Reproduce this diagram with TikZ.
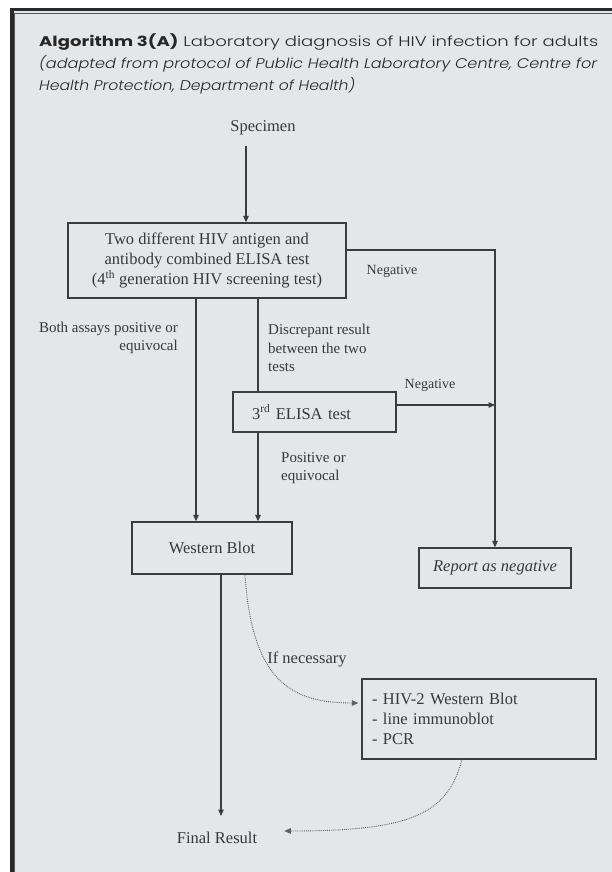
\documentclass[tikz,border=0pt]{standalone}
\usepackage{fontspec}
\setmainfont{Liberation Serif}
\newfontfamily\titlefont{Poppins Light}[BoldFont={Poppins Bold},ItalicFont={Poppins Light Italic}]
\usetikzlibrary{arrows.meta}
\definecolor{bgc}{HTML}{E5E6E8}
\definecolor{ln}{HTML}{3C3C3C}
\definecolor{tx}{HTML}{383838}
\definecolor{ttl}{HTML}{262626}
\definecolor{frm}{HTML}{2A2A2A}
\begin{document}
\begin{tikzpicture}[x=1pt,y=-1pt,
  box/.style={draw=ln, line width=1.3pt, rectangle, inner sep=0pt, font=\fontsize{16.5}{20}\selectfont, text=tx},
  txt/.style={font=\fontsize{16.5}{20}\selectfont, text=tx, inner sep=0pt},
  lbl/.style={font=\fontsize{15}{18.5}\selectfont, text=tx, inner sep=0pt},
  neg/.style={font=\fontsize{14}{16}\selectfont, text=tx, inner sep=0pt},
  ttlline/.style={anchor=base west, inner sep=0pt, text=ttl, font=\fontsize{14}{17}\selectfont\titlefont},
  arr/.style={draw=ln, line width=1.1pt, -{Triangle[length=6.5pt,width=5.5pt]}},
  plainline/.style={draw=ln, line width=1.1pt},
  dotarr/.style={draw=gray!75!black, line width=0.9pt, densely dotted, -{Triangle[length=6.5pt,width=5.5pt]}},
]
\useasboundingbox (0,0) rectangle (612,872);
\clip (0,0) rectangle (612,872);
\fill[white] (0,0) rectangle (612,872);
\fill[bgc] (10,8) rectangle (620,880);
\draw[frm, line width=3.5pt] (11.75,880) -- (11.75,9.75) -- (620,9.75);
\draw[frm!80, line width=0.9pt] (14.8,880) -- (14.8,13.3) -- (620,13.3);

% title
\node[ttlline] (t1) at (39,47) {\resizebox{559pt}{\height}{\textbf{Algorithm 3(A)} Laboratory diagnosis of HIV infection for adults}};
\node[ttlline] (t2) at (39,69) {\resizebox{558pt}{\height}{\itshape (adapted from protocol of Public Health Laboratory Centre, Centre for}};
\node[ttlline] (t3) at (39,91) {\resizebox{316pt}{\height}{\itshape Health Protection, Department of Health)}};

% nodes
\node[txt] (spec) at (263,128) {Specimen};
\node[box, minimum width=278pt, minimum height=75pt, align=center] (b1) at (207,260.5)
  {Two different HIV antigen and\\antibody combined ELISA test\\(4\textsuperscript{th} generation HIV screening test)};
\node[box, text width=125pt, inner xsep=19pt, minimum height=40pt, align=left] (e3) at (314.5,412)
  {3\textsuperscript{rd} ELISA test};
\node[box, minimum width=160pt, minimum height=52pt] (wb) at (212,548) {Western Blot};
\node[box, minimum width=152pt, minimum height=40pt, font=\fontsize{16.5}{20}\selectfont\itshape] (rep) at (495,568) {Report as negative};
\node[box, text width=214pt, inner xsep=10pt, minimum height=80pt, align=left] (b2) at (479,719)
  {- HIV-2 Western Blot\\- line immunoblot\\- PCR};
\node[txt] (fin) at (217,838) {Final Result};

% labels
\node[lbl, anchor=east, align=right] (la) at (178,338) {Both assays positive or\\equivocal};
\node[lbl, anchor=west, align=left] (lb) at (268,348) {Discrepant result\\between the two\\tests};
\node[lbl, anchor=west, align=left] (lc) at (281,468) {Positive or\\equivocal};
\node[neg] (ln1) at (392,271) {Negative};
\node[neg] (ln2) at (430,385) {Negative};
\node[txt] (lnec) at (307,659) {If necessary};

% helper coordinates
\coordinate (nx) at (495,250);
\coordinate (n2) at (495,405);
\coordinate (sx) at (246,0);
\coordinate (lx) at (196,0);
\coordinate (mx) at (258,0);
\coordinate (fx) at (221,0);
\coordinate (dx) at (245,0);
\coordinate (ay) at (0,703);
\coordinate (ex) at (462,0);
\coordinate (ey) at (0,831);

% connectors
\draw[arr, shorten <=11pt] (spec.south -| sx) -- (b1.north -| sx);
\draw[arr] (b1.east |- nx) -- (nx) -- (rep.north);
\draw[arr] (b1.south -| lx) -- (wb.north -| lx);
\draw[plainline] (b1.south -| mx) -- (e3.north -| mx);
\draw[arr] (e3.south -| mx) -- (wb.north -| mx);
\draw[arr] (e3.east |- n2) -- (n2);
\draw[arr, shorten >=16pt] (wb.south -| fx) -- (fin.north -| fx);
\draw[dotarr, shorten >=3pt] (wb.south -| dx) .. controls (252,680) and (290,703) .. (b2.west |- ay);
\draw[dotarr, shorten >=27pt] (b2.south -| ex) .. controls (447,815) and (410,831) .. (fin.east |- ey);
\end{tikzpicture}
\end{document}
